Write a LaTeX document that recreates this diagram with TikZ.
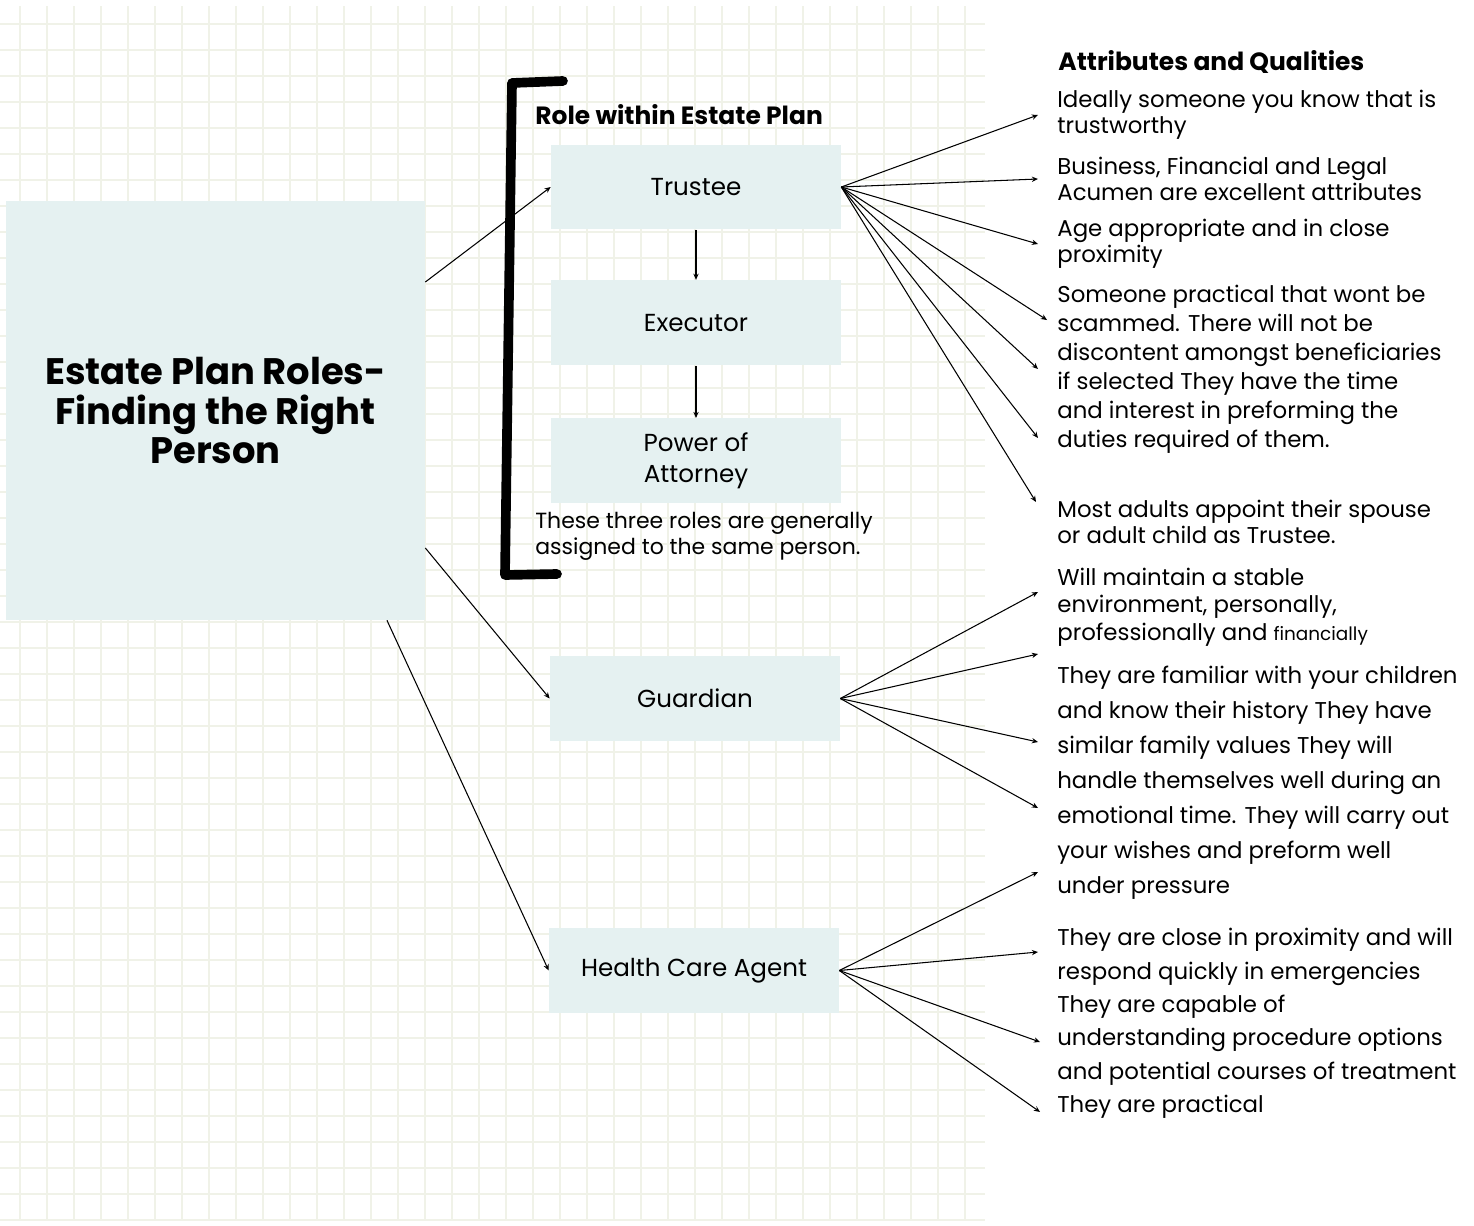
\documentclass[tikz,border=0pt]{standalone}
\usepackage{fontspec}
\setmainfont{Poppins}
\usetikzlibrary{positioning,arrows.meta}
\definecolor{boxfill}{RGB}{229,241,241}
\definecolor{gridline}{RGB}{240,242,232}

\tikzset{
  rolebox/.style={fill=boxfill, minimum width=5.8cm, minimum height=1.7cm,
    align=center, font=\fontsize{14}{18}\selectfont},
  note/.style={anchor=west, align=left, inner sep=0pt,
    font=\fontsize{13}{14.8}\selectfont},
  head/.style={anchor=west, inner sep=0pt, font=\bfseries\fontsize{14.2}{16}\selectfont},
  link/.style={-{Stealth[length=3.5pt,width=3pt]}, line width=0.6pt},
}

\begin{document}
\begin{tikzpicture}[x=0.02cm, y=-0.02cm]
\useasboundingbox (0,0) rectangle (1474,1226);

% squared paper
\foreach \gy in {24,50,...,1220}
  \draw[gridline, line width=0.7pt] (0,\gy) -- (985,\gy);
\foreach \gx in {20,47,...,985}
  \draw[gridline, line width=0.7pt] (\gx,6) -- (\gx,1220);

\node (main) [fill=boxfill, minimum width=8.38cm, minimum height=8.38cm, align=center,
  font=\bfseries\fontsize{21}{22.2}\selectfont] at (215.5,410.5)
  {Estate Plan Roles-\\Finding the Right\\Person};

\node (rolehead) [head] at (535,115) {Role within Estate Plan};
\node (trustee) [rolebox] at (696,187) {Trustee};
\node (executor) [rolebox, below=1cm of trustee] {Executor};
\node (attorney) [rolebox, below=1.05cm of executor] {Power of\\Attorney};
\node (samenote) [note, font=\fontsize{12.5}{14.8}\selectfont] at (535,536)
  {These three roles are generally\\assigned to the same person.};
\node (guardian) [rolebox] at (695,698.5) {Guardian};
\node (health) [rolebox] at (694,970.5) {Health Care Agent};

% bracket round the three roles
\draw[line width=5.5pt, line join=round, line cap=round] (563,81) -- (512,83) -- (505,575) -- (557,574);

\node (attrhead) [head] at (1058,62) {Attributes and Qualities};
\node (t1) [note] at (1057,115) {Ideally someone you know that is\\trustworthy};
\node (t2) [note] at (1057,179) {Business, Financial and Legal\\Acumen are excellent attributes};
\node (t3) [note] at (1057,244) {Age appropriate and in close\\proximity};
\node (t4) [note, font=\fontsize{13}{16.5}\selectfont] at (1057,369)
  {Someone practical that wont be\\scammed. There will not be\\discontent amongst beneficiaries\\if selected They have the time\\and interest in preforming the\\duties required of them.};
\node (t5) [note] at (1057,521.5) {Most adults appoint their spouse\\or adult child as Trustee.};
\node (g1) [note, font=\fontsize{13}{15.6}\selectfont] at (1057,607)
  {Will maintain a stable\\environment, personally,\\professionally and {\fontsize{10.5}{12}\selectfont financially}};
\node (g2) [note, font=\fontsize{13}{19.9}\selectfont] at (1057,783)
  {They are familiar with your children\\and know their history They have\\similar family values They will\\handle themselves well during an\\emotional time. They will carry out\\your wishes and preform well\\under pressure};
\node (h1) [note, font=\fontsize{13}{19}\selectfont] at (1057,1023.5)
  {They are close in proximity and will\\respond quickly in emergencies\\They are capable of\\understanding procedure options\\and potential courses of treatment\\They are practical};

\draw[link] ([yshift=2.57cm]main.east) -- (trustee.west);
\draw[link] ([yshift=-2.75cm]main.east) -- (guardian.west);
\draw[link] ([xshift=3.43cm]main.south) -- (health.west);
\draw[link] (trustee) -- (executor);
\draw[link] (executor) -- (attorney);

\foreach \nd/\dx/\dy in {t1/-0.38/0, t2/-0.38/0, t3/-0.38/0, t4/-0.2/0.98, t4/-0.38/0,
    t4/-0.38/-1.38, t5/-0.42/0.39}
  \draw[link] (trustee.east) -- ([xshift=\dx cm, yshift=\dy cm]\nd.west);
\foreach \nd/\dx/\dy in {g1/-0.38/0.3, g2/-0.38/2.58, g2/-0.38/0.82, g2/-0.38/-0.5}
  \draw[link] (guardian.east) -- ([xshift=\dx cm, yshift=\dy cm]\nd.west);
\foreach \nd/\dx/\dy in {h1/-0.38/3.03, h1/-0.38/1.43, h1/-0.34/-0.37, h1/-0.34/-1.77}
  \draw[link] (health.east) -- ([xshift=\dx cm, yshift=\dy cm]\nd.west);
\end{tikzpicture}
\end{document}
